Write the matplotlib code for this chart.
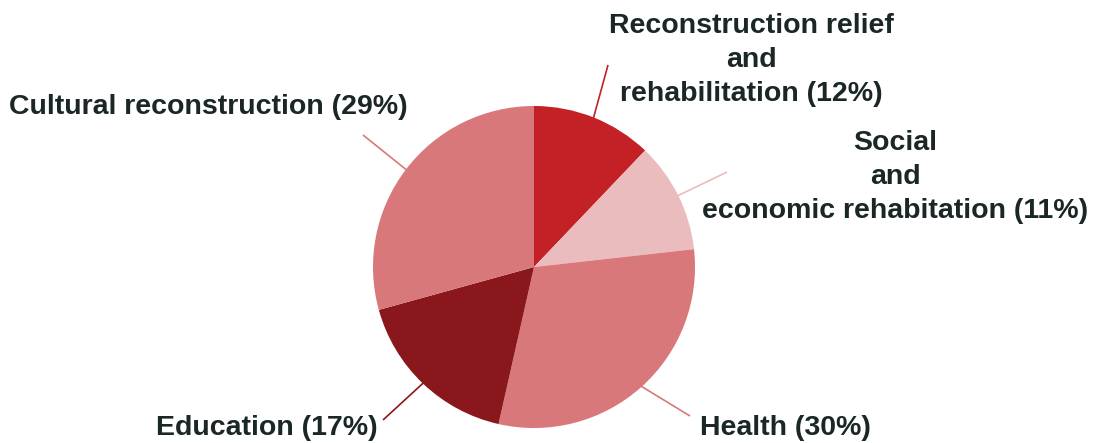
import matplotlib
matplotlib.use("Agg")
import matplotlib.pyplot as plt
import numpy as np

labels = ["Reconstruction relief\nand\nrehabilitation (12%)",
          "Social\nand\neconomic rehabitation (11%)",
          "Health (30%)",
          "Education (17%)",
          "Cultural reconstruction (29%)"]
values = [12, 11, 30, 17, 29]
colors = ["#c42126", "#ebbcbd", "#d8787a", "#8a171b", "#d8787a"]

# layout (pixel coordinates, y from top)
W, H = 1094, 443
cx, cy, R = 534, 267, 161
text_pos = [(751, 60, "center"), (895, 177, "center"), (700, 428, "left"),
            (378, 428, "right"), (408, 107, "right")]
line_end = [(608, 65), (727, 172), (690, 416), (383, 420), (363, 135)]
text_color = "#1b2727"

fig = plt.figure(figsize=(W / 100, H / 100), dpi=100)
ax = fig.add_axes([0, 0, 1, 1])

wedges, _ = ax.pie(values, colors=colors, startangle=90, counterclock=False,
                   center=(cx, H - cy), radius=R, frame=True,
                   wedgeprops=dict(linewidth=0))
ax.set_xlim(0, W)
ax.set_ylim(0, H)
ax.set_aspect("equal")
ax.axis("off")

for w, lab, (tx, ty, ha), (ex, ey), col in zip(wedges, labels, text_pos,
                                               line_end, colors):
    mid = np.deg2rad((w.theta1 + w.theta2) / 2)
    x0, y0 = cx + (R - 2) * np.cos(mid), H - cy + (R - 2) * np.sin(mid)
    ax.plot([x0, ex], [y0, H - ey], color=col, lw=1.2,
            solid_capstyle="butt", zorder=0)
    ax.text(tx, H - ty, lab, ha=ha, va="center", multialignment="center",
            fontsize=20.5, fontweight="bold", color=text_color,
            family="Liberation Sans", linespacing=1.42)

fig.savefig("out.png", dpi=100)
